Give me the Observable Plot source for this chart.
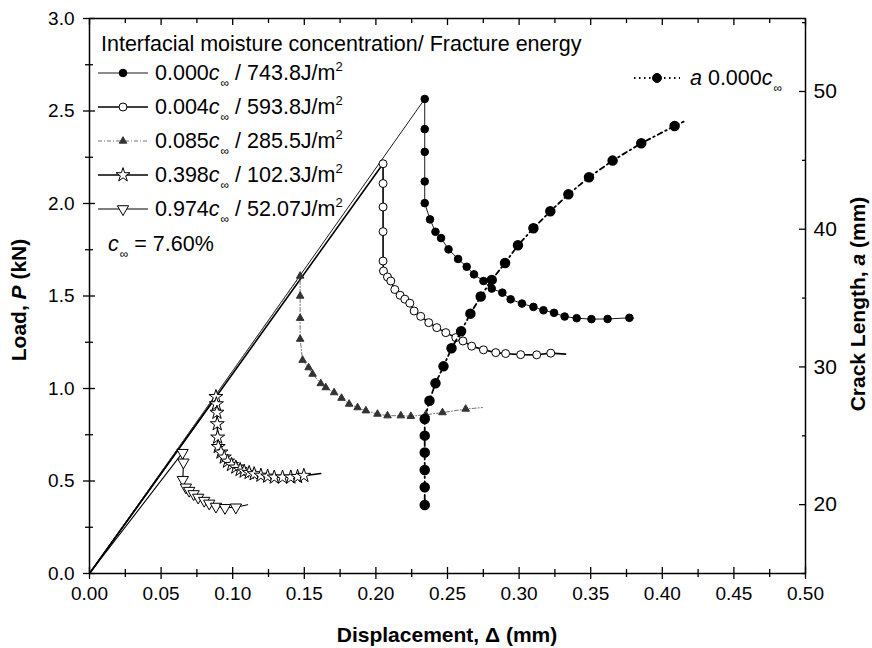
<!DOCTYPE html>
<html><head><meta charset="utf-8">
<script src="https://cdn.jsdelivr.net/npm/d3@7"></script>
<script src="https://cdn.jsdelivr.net/npm/@observablehq/plot@0.6"></script>
<style>
body{margin:0;background:#fff;}
#wrap{position:relative;width:872px;height:648px;font-family:"Liberation Sans",Arial,sans-serif;color:#000;}
.lg{position:absolute;font-size:21.5px;white-space:nowrap;line-height:20px;display:flex;align-items:center;}
.lg sub{font-size:12px;vertical-align:-7px;line-height:0;margin-left:1px;}
.lg sup{font-size:13px;vertical-align:9px;line-height:0;}
.ax{position:absolute;font-weight:bold;font-size:21px;white-space:nowrap;line-height:21px;}
</style></head><body>
<div id="wrap"><div id="chart"></div></div>
<script>
// ---------- data ----------
const xMajor = [0, 0.05, 0.10, 0.15, 0.20, 0.25, 0.30, 0.35, 0.40, 0.45, 0.50];
const xMinor = [0.025, 0.075, 0.125, 0.175, 0.225, 0.275, 0.325, 0.375, 0.425, 0.475];
const yMajor = [0, 0.5, 1.0, 1.5, 2.0, 2.5, 3.0];
const yMinor = [0.25, 0.75, 1.25, 1.75, 2.25, 2.75];
const aMajor = [20, 30, 40, 50];
const aMinor = [15, 25, 35, 45, 55];
const aDomain = [15, 55.3];
const origin = [0, 0];

const concLabels = ["0.000", "0.004", "0.085", "0.398", "0.974"];
const energyLabels = ["743.8", "593.8", "285.5", "102.3", "52.07"];
const cInfLabel = "7.60%";

// 0.000 c_inf
const s1Disp = [0.2341,0.2341,0.2341,0.2341,0.2341,0.2378,0.2416,0.2455,0.2507,0.2574,0.2634,0.2685,0.2751,0.2809,0.2883,0.2941,0.3020,0.3100,0.3170,0.3244,0.3318,0.3402,0.3505,0.3618,0.3770];
const s1Load = [2.565,2.402,2.279,2.119,2.002,1.914,1.847,1.813,1.752,1.700,1.658,1.617,1.581,1.540,1.518,1.482,1.459,1.441,1.423,1.409,1.389,1.380,1.375,1.376,1.382];
const s1Tail = [0.380, 1.380];
// 0.004 c_inf
const s2Disp = [0.2050,0.2050,0.2050,0.2050,0.2050,0.2053,0.2081,0.2104,0.2132,0.2169,0.2202,0.2237,0.2267,0.2313,0.2369,0.2425,0.2488,0.2558,0.2608,0.2669,0.2751,0.2837,0.2906,0.3011,0.3123,0.3221];
const s2Load = [2.215,2.108,1.981,1.848,1.689,1.635,1.603,1.581,1.535,1.504,1.483,1.461,1.419,1.390,1.356,1.329,1.302,1.275,1.257,1.229,1.209,1.194,1.189,1.183,1.182,1.191];
const s2Tail = [0.3325, 1.186];
// 0.085 c_inf
const s3Disp = [0.1471,0.1471,0.1471,0.1471,0.1488,0.1530,0.1558,0.1615,0.1650,0.1708,0.1760,0.1813,0.1872,0.1930,0.2011,0.2081,0.2174,0.2244,0.2348,0.2465,0.2627];
const s3Load = [1.608,1.500,1.380,1.267,1.153,1.113,1.078,1.027,1.005,0.978,0.948,0.916,0.897,0.880,0.862,0.853,0.853,0.850,0.858,0.870,0.889];
const s3Tail = [0.2744, 0.897];
// 0.398 c_inf
const s4Disp = [0.0883,0.0886,0.0890,0.0892,0.0895,0.0899,0.0918,0.0941,0.0964,0.0992,0.1022,0.1052,0.1080,0.1115,0.1150,0.1197,0.1244,0.1290,0.1348,0.1406,0.1453,0.1497];
const s4Load = [0.955,0.916,0.870,0.808,0.736,0.685,0.655,0.628,0.606,0.588,0.574,0.561,0.552,0.545,0.538,0.530,0.525,0.520,0.520,0.520,0.523,0.529];
const s4Tail = [0.1615, 0.540];
// 0.974 c_inf
const s5Disp = [0.0650,0.0656,0.0652,0.0673,0.0696,0.0727,0.0759,0.0801,0.0836,0.0883,0.0946,0.1022];
const s5Load = [0.653,0.601,0.507,0.466,0.448,0.430,0.411,0.394,0.379,0.362,0.355,0.358];
const s5Tail = [0.1104, 0.372];
// crack length a, 0.000 c_inf (mm)
const crackDisp = [0.2341,0.2341,0.2341,0.2341,0.2341,0.2341,0.2374,0.2416,0.2472,0.2528,0.2595,0.2660,0.2732,0.2809,0.2902,0.2992,0.3100,0.3218,0.3344,0.3488,0.3653,0.3853,0.4086];
const crackA = [19.98,21.26,22.52,23.78,25.01,26.22,27.55,28.81,30.04,31.35,32.59,33.87,35.11,36.32,37.55,38.83,40.07,41.30,42.53,43.77,44.98,46.24,47.50];
const crackTail = [0.4149, 47.81];

// ---------- helpers ----------
const yDomain = [0, 3];
const aToLoad = a => (a - aDomain[0]) / (aDomain[1] - aDomain[0]) * (yDomain[1] - yDomain[0]) + yDomain[0];
const loadToA = p => (p - yDomain[0]) / (yDomain[1] - yDomain[0]) * (aDomain[1] - aDomain[0]) + aDomain[0];
const pts = (xs, ys) => xs.map((x, i) => ({x, y: ys[i]}));
const withLine = (xs, ys, tail) => [{x: origin[0], y: origin[1]}, ...pts(xs, ys), {x: tail[0], y: tail[1]}];

const styles = [
  {stroke: "#000", sw: 0.9, dash: null, symbol: "circle", r: 3.8, fill: "#000", mstroke: "#000", rotate: 0},
  {stroke: "#000", sw: 1.6, dash: null, symbol: "circle", r: 4.0, fill: "#fff", mstroke: "#000", rotate: 0},
  {stroke: "#666", sw: 0.9, dash: "4,2,1,2", symbol: "triangle", r: 2.8, fill: "#333", mstroke: "#333", rotate: 0},
  {stroke: "#000", sw: 1.5, dash: null, symbol: "star", r: 4.4, fill: "#fff", mstroke: "#000", rotate: 0},
  {stroke: "#000", sw: 1.1, dash: null, symbol: "triangle", r: 4.2, fill: "#fff", mstroke: "#000", rotate: 180}
];
const series = [
  [s1Disp, s1Load, s1Tail], [s2Disp, s2Load, s2Tail], [s3Disp, s3Load, s3Tail],
  [s4Disp, s4Load, s4Tail], [s5Disp, s5Load, s5Tail]
];

const marks = [];
series.forEach(([xs, ys, tail], i) => {
  const s = styles[i];
  marks.push(Plot.line(withLine(xs, ys, tail), {x: "x", y: "y", stroke: s.stroke, strokeWidth: s.sw, strokeDasharray: s.dash, curve: "linear"}));
});
series.forEach(([xs, ys], i) => {
  const s = styles[i];
  marks.push(Plot.dot(pts(xs, ys), {x: "x", y: "y", symbol: s.symbol, r: s.r, fill: s.fill, stroke: s.mstroke, strokeWidth: 1, rotate: s.rotate}));
});
const crackPts = pts(crackDisp, crackA.map(aToLoad));
const crackLine = [...crackPts, {x: crackTail[0], y: aToLoad(crackTail[1])}];
marks.push(Plot.line(crackLine, {x: "x", y: "y", stroke: "#000", strokeWidth: 1.8, strokeDasharray: "1.5,3.5,5,3.5"}));
marks.push(Plot.dot(crackPts, {x: "x", y: "y", r: 4.5, fill: "#000", stroke: "#000"}));

// axes
const tsw = 1.3;
marks.push(
  Plot.frame({stroke: "#000", strokeWidth: 1.5}),
  Plot.axisX({ticks: xMajor, tickSize: 6, tickPadding: 7, tickFormat: d3.format(".2f"), fontSize: 19, label: null, strokeWidth: tsw}),
  Plot.axisX({ticks: xMajor, tickSize: -6, fill: "none", label: null, strokeWidth: tsw}),
  Plot.axisX({ticks: xMinor, tickSize: 4, fill: "none", label: null, strokeWidth: tsw}),
  Plot.axisX({ticks: xMinor, tickSize: -4, fill: "none", label: null, strokeWidth: tsw}),
  Plot.axisX({anchor: "top", ticks: xMajor, tickSize: -6, fill: "none", label: null, strokeWidth: tsw}),
  Plot.axisX({anchor: "top", ticks: xMinor, tickSize: -4, fill: "none", label: null, strokeWidth: tsw}),
  Plot.axisY({ticks: yMajor, tickSize: 6, tickPadding: 9, tickFormat: d3.format(".1f"), fontSize: 19, label: null, strokeWidth: tsw}),
  Plot.axisY({ticks: yMajor, tickSize: -6, fill: "none", label: null, strokeWidth: tsw}),
  Plot.axisY({ticks: yMinor, tickSize: 4, fill: "none", label: null, strokeWidth: tsw}),
  Plot.axisY({ticks: yMinor, tickSize: -4, fill: "none", label: null, strokeWidth: tsw}),
  Plot.axisY({anchor: "right", ticks: aMajor.map(aToLoad), tickSize: -7, fill: "none", label: null, strokeWidth: tsw}),
  Plot.axisY({anchor: "right", ticks: aMinor.map(aToLoad), tickSize: -4, fill: "none", label: null, strokeWidth: tsw}),
  Plot.axisY({anchor: "right", ticks: aMajor.map(aToLoad), tickSize: 0, tickPadding: 8, tickFormat: p => String(Math.round(loadToA(p))), fontSize: 21, label: null})
);

const chart = Plot.plot({
  width: 872, height: 648,
  marginLeft: 89, marginRight: 67, marginTop: 18, marginBottom: 75,
  x: {domain: [0, 0.5], axis: null},
  y: {domain: yDomain, axis: null},
  style: {fontFamily: "'Liberation Sans', Arial, sans-serif", fontSize: "19px", color: "#000", background: "#fff"},
  marks
});
document.getElementById("chart").appendChild(chart);

// ---------- legend & axis titles (overlay) ----------
const wrap = document.getElementById("wrap");
function add(html, cls, css) {
  const d = document.createElement("div");
  d.className = cls; d.innerHTML = html; Object.assign(d.style, css);
  wrap.appendChild(d); return d;
}
const symMap = {circle: d3.symbolCircle, triangle: d3.symbolTriangle, star: d3.symbolStar};
function swatch(s, w) {
  const p = d3.symbol(symMap[s.symbol], Math.PI * s.r * s.r)();
  return `<svg width="${w}" height="20" style="overflow:visible"><line x1="0" x2="${w}" y1="10" y2="10" stroke="${s.stroke}" stroke-width="${s.sw}" ${s.dash ? `stroke-dasharray="${s.dash}"` : ""}/>` +
    `<path d="${p}" transform="translate(${w / 2},10) rotate(${s.rotate})" fill="${s.fill}" stroke="${s.mstroke}" stroke-width="1"/></svg>`;
}
add("Interfacial moisture concentration/ Fracture energy", "lg", {left: "101px", top: "34px"});
const rowY = [73, 107, 141, 175, 209];
concLabels.forEach((c, i) => {
  add(`${swatch(styles[i], 50)}<span style="margin-left:7px">${c}<i>c</i><sub>∞</sub> / ${energyLabels[i]}J/m<sup>2</sup></span>`, "lg", {left: "98px", top: (rowY[i] - 10) + "px"});
});
add(`<span style="margin-left:10px"><i>c</i><sub>∞</sub> = ${cInfLabel}</span>`, "lg", {left: "98px", top: "234px"});
const crackStyle = {stroke: "#000", sw: 1.8, dash: "1.5,3.5", symbol: "circle", r: 4.5, fill: "#000", mstroke: "#000", rotate: 0};
add(`${swatch(crackStyle, 46)}<span style="margin-left:10px"><i>a</i> ${concLabels[0]}<i>c</i><sub>∞</sub></span>`, "lg", {left: "634px", top: "68px"});

add("Displacement, Δ (mm)", "ax", {left: "447px", top: "634px", transform: "translate(-50%,-50%)"});
add("Load, <i>P</i> (kN)", "ax", {left: "18px", top: "300px", transform: "translate(-50%,-50%) rotate(-90deg)"});
add("Crack Length, <i>a</i> (mm)", "ax", {left: "857px", top: "304px", transform: "translate(-50%,-50%) rotate(-90deg)"});
</script>
</body></html>
